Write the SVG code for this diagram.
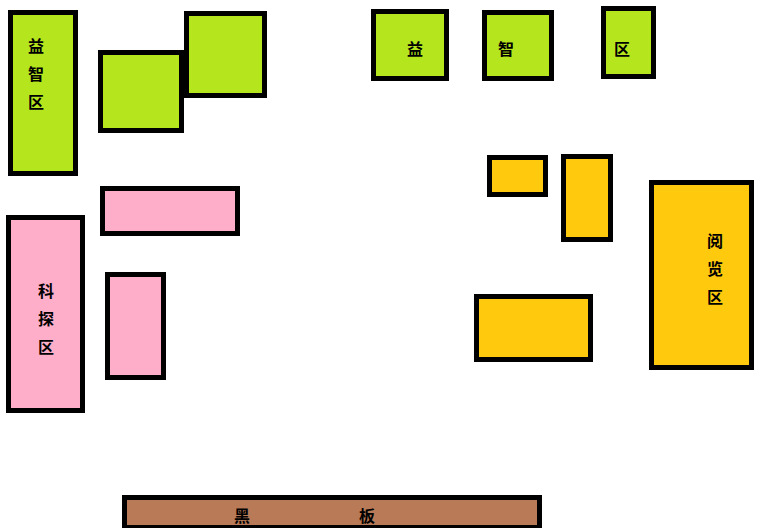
<svg xmlns="http://www.w3.org/2000/svg" width="757" height="528" viewBox="0 0 757 528">
<style>
rect{stroke:#000;stroke-width:5}
.g{fill:#b5e61d}.p{fill:#ffaec9}.y{fill:#ffc90e}.b{fill:#b97a57}
text{font-family:"Noto Sans CJK SC","Noto Sans CJK JP",sans-serif;font-size:16px;font-weight:bold;fill:#000;text-anchor:middle;dominant-baseline:central}
</style>
<rect width="757" height="528" fill="#fff" style="stroke:none"/>
<g id="puzzle-left"><rect class="g" x="10.5" y="12.5" width="65" height="161"/><text x="36" y="45">益</text><text x="36" y="73">智</text><text x="36" y="101">区</text></g>
<g id="green2"><rect class="g" x="100.5" y="52.5" width="81" height="78"/></g>
<g id="green3"><rect class="g" x="186.5" y="13.5" width="78" height="82"/></g>
<g id="green4"><rect class="g" x="373.5" y="11.5" width="73" height="67"/><text x="415" y="48">益</text></g>
<g id="green5"><rect class="g" x="484.5" y="12.5" width="67" height="66"/><text x="506" y="48">智</text></g>
<g id="green6"><rect class="g" x="603.5" y="8.5" width="50" height="68"/><text x="622" y="48">区</text></g>
<g id="pink1"><rect class="p" x="102.5" y="188.5" width="135" height="45"/></g>
<g id="science"><rect class="p" x="8.5" y="217.5" width="74" height="193"/><text x="46" y="290">科</text><text x="46" y="318">探</text><text x="46" y="346">区</text></g>
<g id="pink3"><rect class="p" x="107.5" y="274.5" width="56" height="103"/></g>
<g id="yellow1"><rect class="y" x="489.5" y="157.5" width="56" height="37"/></g>
<g id="yellow2"><rect class="y" x="563.5" y="156.5" width="47" height="83"/></g>
<g id="reading"><rect class="y" x="651.5" y="182.5" width="100" height="185"/><text x="715" y="240">阅</text><text x="715" y="268">览</text><text x="715" y="296">区</text></g>
<g id="yellow4"><rect class="y" x="476.5" y="296.5" width="114" height="63"/></g>
<g id="blackboard"><rect class="b" x="124.5" y="497.5" width="415" height="30"/><text x="242" y="515">黑</text><text x="367" y="515">板</text></g>
<g id="connectors"></g>
</svg>
